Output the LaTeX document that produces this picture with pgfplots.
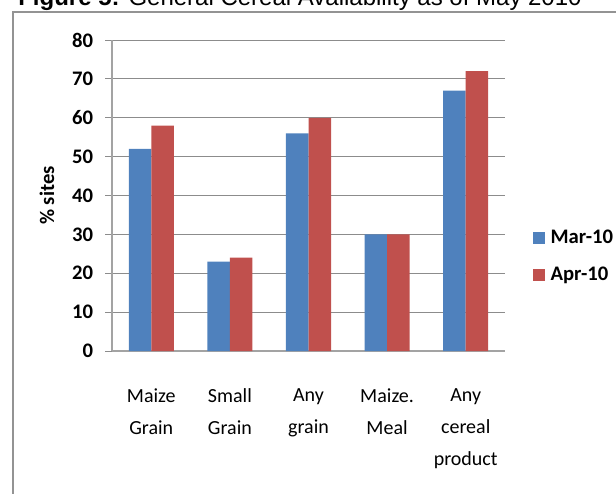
\documentclass[border=0pt]{standalone}
\usepackage{pgfplots}
\pgfplotsset{compat=1.18}
\usepackage{fontspec}
\setmainfont{Carlito}
\newfontfamily\titlefont{Liberation Sans}
\definecolor{cblue}{HTML}{4F81BD}
\definecolor{cred}{HTML}{C0504D}
\definecolor{gridgray}{HTML}{8C8C8C}
\begin{document}
\begin{tikzpicture}
\path[use as bounding box] (-84pt,-106.5pt) rectangle (378pt,263.25pt);
\clip (-84pt,-106.5pt) rectangle (378pt,263.25pt);
\draw[gray!85, line width=1.3pt] (-74.5pt,-130pt) -- (-74.5pt,254pt) -- (400pt,254pt);
\node[anchor=base west, inner sep=0pt, font=\titlefont\fontsize{18}{20}\selectfont] at (-70.5pt,258.75pt) {\textbf{Figure 5:} General Cereal Availability as of May 2010};
\begin{axis}[
  at={(0pt,0pt)}, anchor=south west,
  scale only axis,
  width=294.75pt, height=233.25pt,
  ybar=0pt, bar width=16.9pt,
  xmin=-0.5, xmax=4.5,
  ymin=0, ymax=80,
  enlargelimits=false,
  axis x line=bottom, axis y line=left,
  axis line style={-, draw=gridgray!80, line width=1pt},
  ytick={0,10,...,80},
  xtick={0,1,2,3,4},
  xticklabels={Maize\\Grain, Small\\Grain, Any\\grain, Maize.\\Meal, Any\\cereal\\product},
  xtick style={draw=none},
  ytick style={draw=gridgray, line width=0.6pt},
  tick align=outside,
  major tick length=5pt,
  ymajorgrids,
  grid style={draw=gridgray, line width=0.6pt},
  /pgf/number format/assume math mode=true,
  yticklabel style={font=\fontsize{15.5}{18}\selectfont\bfseries, inner sep=0pt, anchor=east, xshift=-9pt},
  xticklabel style={font=\fontsize{15}{24}\selectfont, align=center, anchor=north, inner sep=0pt, yshift=-23pt},
  ylabel={\% sites},
  every axis y label/.style={at={(rel axis cs:0,0.5)}, rotate=90, anchor=center, yshift=48.75pt, font=\fontsize{15.5}{18}\selectfont\bfseries},
  legend style={at={(1,0.304)}, anchor=west, xshift=21pt, draw=none, fill=none,
    font=\fontsize{15.5}{18}\selectfont\bfseries, inner sep=0pt, row sep=16pt,
    nodes={inner sep=0pt}},
  legend cell align=left,
  legend image code/.code={\fill[#1] (0pt,-4.5pt) rectangle (8.5pt,4.5pt);},
  /tikz/every odd column/.append style={column sep=4.5pt},
]
\addplot[fill=cblue, draw=none] coordinates {(0,52) (1,23) (2,56) (3,30) (4,67)};
\addplot[fill=cred, draw=none] coordinates {(0,58) (1,24) (2,60) (3,30) (4,72)};
\legend{Mar-10, Apr-10}
\end{axis}
\end{tikzpicture}
\end{document}
